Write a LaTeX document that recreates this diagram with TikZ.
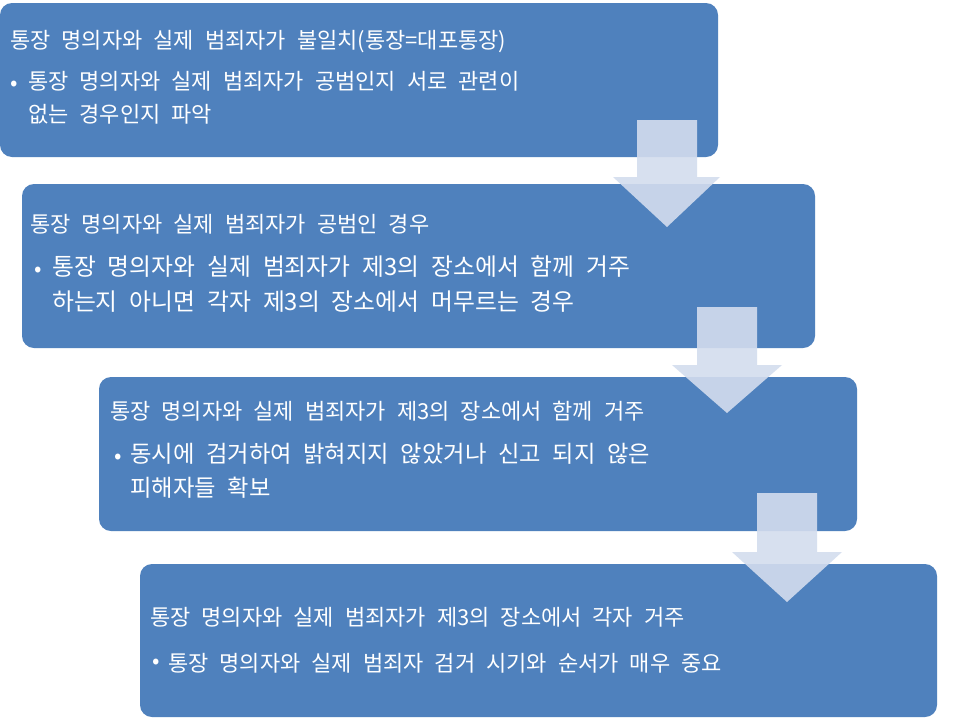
\documentclass[tikz,border=0pt]{standalone}
\usepackage{fontspec}
\setmainfont{Noto Sans CJK KR}
\definecolor{boxblue}{HTML}{4F81BD}
\definecolor{arrowfill}{HTML}{D3DDEE}
\newcommand{\kfont}[2]{\fontsize{#1}{#2}\selectfont\spaceskip=0.5em\relax}
\begin{document}
\begin{tikzpicture}[x=1pt,y=-1pt,
  box/.style={fill=boxblue, rounded corners=12pt, inner sep=0pt, outer sep=0pt, anchor=north west},
  arr/.style={fill=arrowfill, fill opacity=0.9},
  txt/.style={anchor=west, text=white, inner sep=0pt, align=left},
  ttl/.style={txt, font=\kfont{22}{26}},
  bul/.style={anchor=center, text=white, inner sep=0pt, font=\fontsize{22}{22}\selectfont},
]
\useasboundingbox (0,0) rectangle (960,720);
\fill[white] (0,0) rectangle (960,720);

% boxes
\node[box, minimum width=718pt, minimum height=154pt] (b1) at (0,3) {};
\node[box, minimum width=793pt, minimum height=164pt] (b2) at (22,184) {};
\node[box, minimum width=758pt, minimum height=154pt] (b3) at (99,377) {};
\node[box, minimum width=797pt, minimum height=153pt] (b4) at (140,564) {};

% box 1 text
\node[ttl] (t1) at (10,42) {통장 명의자와 실제 범죄자가 불일치(통장=대포통장)};
\node[bul] (d1) at (14,86) {•};
\node[txt, font=\kfont{22}{33}, anchor=north west] (p1) at (28,71) {통장 명의자와 실제 범죄자가 공범인지 서로 관련이\\없는 경우인지 파악};

% box 2 text
\node[ttl] (t2) at (30,224) {통장 명의자와 실제 범죄자가 공범인 경우};
\node[bul] (d2) at (38,272) {•};
\node[txt, font=\kfont{23.8}{35}, anchor=north west] (p2) at (52,255) {통장 명의자와 실제 범죄자가 제3의 장소에서 함께 거주\\하는지 아니면 각자 제3의 장소에서 머무르는 경우};

% box 3 text
\node[ttl] (t3) at (110,411) {통장 명의자와 실제 범죄자가 제3의 장소에서 함께 거주};
\node[bul] (d3) at (118,459) {•};
\node[txt, font=\kfont{23.3}{34}, anchor=north west] (p3) at (130,443) {동시에 검거하여 밝혀지지 않았거나 신고 되지 않은\\피해자들 확보};

% box 4 text
\node[ttl] (t4) at (150,617) {통장 명의자와 실제 범죄자가 제3의 장소에서 각자 거주};
\node[bul] (d4) at (156,664) {•};
\node[txt, font=\kfont{22}{26}] (p4) at (168,663) {통장 명의자와 실제 범죄자 검거 시기와 순서가 매우 중요};

% block arrows
\path[arr] (637,120) -- (697,120) -- (697,177) -- (720,177) -- (667,227) -- (613,177) -- (637,177) -- cycle;
\path[arr] (697,307) -- (757,307) -- (757,365) -- (782,365) -- (727,413) -- (672,365) -- (697,365) -- cycle;
\path[arr] (757,493) -- (817,493) -- (817,552) -- (842,552) -- (787,602) -- (732,552) -- (757,552) -- cycle;
\end{tikzpicture}
\end{document}
